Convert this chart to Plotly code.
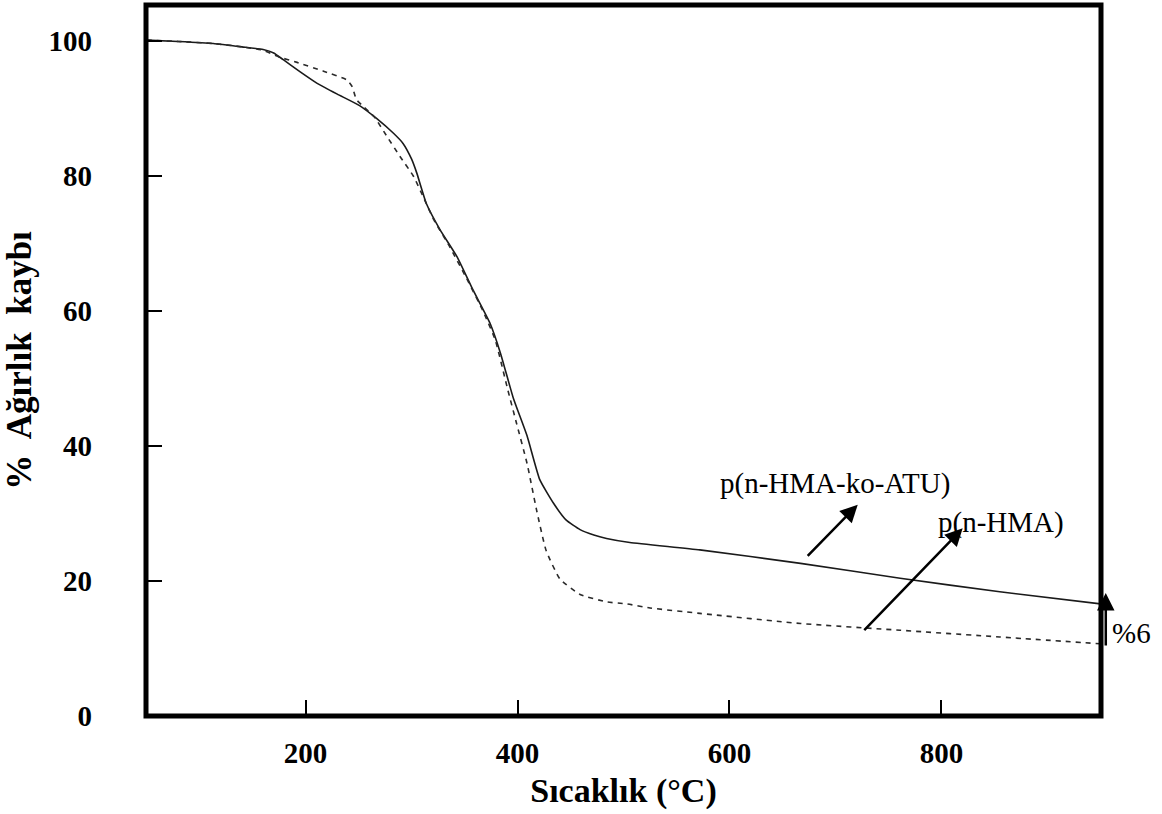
import plotly.graph_objects as go

# p(n-HMA-ko-ATU) - solid
t_ko = [50, 80, 113, 140, 160, 170, 179, 195, 211, 230, 251, 267, 283, 292, 300, 305, 314, 327, 343,
        358, 374, 384, 396, 409, 421, 434, 446, 459, 472, 484, 506, 572, 667, 761, 855, 950]
w_ko = [100.1, 99.9, 99.6, 99.1, 98.7, 98.2, 97.2, 95.4, 93.7, 92.1, 90.4, 88.5, 86.3, 84.8, 82.5,
        80.4, 75.9, 72.0, 68.0, 63.1, 58.2, 53.7, 47.1, 41.5, 35.0, 31.5, 29.0, 27.6, 26.8, 26.3,
        25.7, 24.6, 22.6, 20.4, 18.4, 16.6]

# p(n-HMA) - dashed
t_h = [50, 80, 113, 140, 160, 175, 192, 217, 239, 244, 248, 255, 265, 277, 289, 302, 311, 321, 336,
       352, 368, 379, 391, 399, 409, 418, 427, 440, 459, 484, 503, 525, 572, 667, 761, 855, 950]
w_h = [100.1, 99.9, 99.6, 99.1, 98.6, 97.6, 96.8, 95.5, 94.2, 93.2, 91.3, 90.2, 88.7, 85.8, 82.9,
       79.9, 76.9, 73.5, 69.5, 64.8, 59.8, 55.7, 48.2, 43.4, 37.4, 30.5, 24.5, 20.3, 18.0, 16.9,
       16.6, 16.0, 15.2, 13.7, 12.7, 11.7, 10.7]

x_ticks = [200, 400, 600, 800]
y_ticks = [0, 20, 40, 60, 80, 100]

SERIF = "Liberation Serif, Times New Roman, serif"

fig = go.Figure()
fig.add_trace(go.Scatter(x=t_ko, y=w_ko, mode="lines", name="p(n-HMA-ko-ATU)",
                         line=dict(color="#1a1a1a", width=1.6, shape="spline", smoothing=0.45)))
fig.add_trace(go.Scatter(x=t_h, y=w_h, mode="lines", name="p(n-HMA)",
                         line=dict(color="#2a2a2a", width=1.6, dash="5px,5px", shape="spline", smoothing=0.45)))

fig.update_layout(
    width=1162, height=814,
    margin=dict(l=146, r=61, t=5, b=98),
    paper_bgcolor="white", plot_bgcolor="white",
    showlegend=False,
    xaxis=dict(range=[49.5, 950.5], tickvals=x_ticks, ticks="inside", ticklen=16, tickwidth=1.5,
               tickcolor="black", showgrid=False, zeroline=False, showline=False, automargin=False,
               tickfont=dict(family=SERIF, size=29, color="black", weight="bold"),
               ticklabelstandoff=17,
               title=dict(text="Sıcaklık (°C)", font=dict(family=SERIF, size=34, color="black", weight="bold"),
                          standoff=10)),
    yaxis=dict(range=[0, 105.3], tickvals=y_ticks, ticks="inside", ticklen=16, tickwidth=1.5,
               tickcolor="black", showgrid=False, zeroline=False, showline=False, automargin=False,
               tickfont=dict(family=SERIF, size=29, color="black", weight="bold"),
               ticklabelstandoff=53,
               title=dict(text="%  Ağırlık  kaybı", font=dict(family=SERIF, size=35, color="black", weight="bold"),
                          standoff=26)),
)

fig.add_shape(type="rect", xref="paper", yref="paper", x0=0, x1=1, y0=0, y1=1,
              line=dict(color="black", width=5), layer="above")

ann_font = dict(family=SERIF, size=29, color="black")
fig.add_annotation(x=699.5, y=34.5, xref="x", yref="y", text="p(n-HMA-ko-ATU)", showarrow=False, font=ann_font)
fig.add_annotation(x=856, y=28.7, xref="x", yref="y", text="p(n-HMA)", showarrow=False, font=ann_font)
fig.add_annotation(x=721, y=31.3, ax=672.4, ay=23.5, xref="x", yref="y", axref="x", ayref="y",
                   text="", showarrow=True, arrowhead=2, arrowsize=1.4, arrowwidth=2.5, arrowcolor="black")
fig.add_annotation(x=820, y=27.8, ax=725.8, ay=12.5, xref="x", yref="y", axref="x", ayref="y",
                   text="", showarrow=True, arrowhead=2, arrowsize=1.4, arrowwidth=2.5, arrowcolor="black")
fig.add_annotation(x=1.005, y=18.2, xref="paper", yref="y", ax=0, ay=54, axref="pixel", ayref="pixel",
                   text="", showarrow=True, arrowhead=2, arrowsize=1.4, arrowwidth=2.5, arrowcolor="black")
fig.add_annotation(x=1.0095, y=12.3, xref="paper", yref="y", xanchor="left", text="%6",
                   showarrow=False, font=ann_font)

fig.write_html("out.html")
